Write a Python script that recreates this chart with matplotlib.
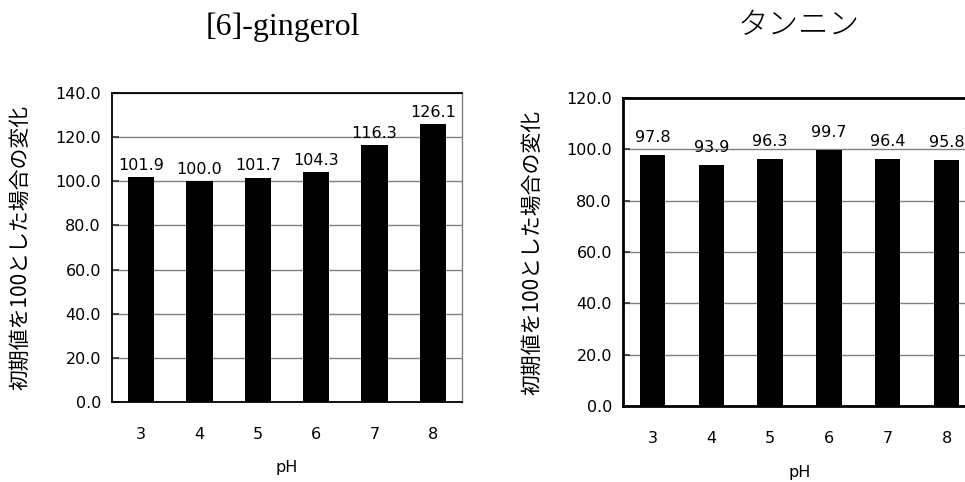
import matplotlib
matplotlib.use("Agg")
import matplotlib.pyplot as plt
import numpy as np

plt.rcParams['font.family'] = ['DejaVu Sans', 'Noto Sans CJK JP']

ph_labels = ["3", "4", "5", "6", "7", "8"]
gingerol_values = [101.9, 100.0, 101.7, 104.3, 116.3, 126.1]
tannin_values = [97.8, 93.9, 96.3, 99.7, 96.4, 95.8]
ylabel_text = "初期値を100とした場合の変化"
xlabel_text = "pH"
title_left = "[6]-gingerol"
title_right = "タンニン"

NUM_FS = 11.5

fig = plt.figure(figsize=(9.65, 4.82), dpi=100)

def draw(ax, values, ymax, bar_w, label_off, thick_frame, ylab_x, xlab_y):
    x = np.arange(len(values))
    ax.bar(x, values, width=bar_w, color='black', zorder=3)
    ax.set_xlim(-0.5, len(values) - 0.5)
    ax.set_ylim(0, ymax)
    ticks = np.arange(0, ymax + 1, 20)
    ax.set_yticks(ticks)
    ax.set_yticklabels([f"{v:.1f}" for v in ticks], fontsize=NUM_FS, family='DejaVu Sans')
    ax.set_xticks(x)
    ax.set_xticklabels(ph_labels, fontsize=NUM_FS, family='DejaVu Sans')
    ax.yaxis.grid(True, color='#808080', linewidth=1, zorder=0)
    ax.set_axisbelow(True)
    ax.tick_params(axis='x', length=0, pad=18)
    ax.tick_params(axis='y', direction='in', length=5, width=1.2, color='#333333', pad=8)
    for v, xi in zip(values, x):
        ax.annotate(f"{v:.1f}", (xi, v), xytext=(0, label_off), textcoords='offset points',
                    ha='center', va='bottom', fontsize=NUM_FS, family='DejaVu Sans', zorder=4)
    ax.set_ylabel(ylabel_text, fontsize=15, family=['Noto Sans CJK JP', 'DejaVu Sans'])
    ax.yaxis.set_label_coords(ylab_x, 0.5)
    ax.set_xlabel(xlabel_text, fontsize=NUM_FS, family='DejaVu Sans')
    ax.xaxis.set_label_coords(0.5, xlab_y)
    lw = 2 if thick_frame else 1.3
    for s in ['left', 'bottom', 'top']:
        ax.spines[s].set_color('black')
        ax.spines[s].set_linewidth(lw)
    ax.spines['right'].set_color('#808080')
    ax.spines['right'].set_linewidth(1)

ax1 = fig.add_axes([112/965, 1 - 402/482, 350/965, 309/482])
draw(ax1, gingerol_values, 140, 0.45, 3, False, -(112 - 31)/350, -(460 - 402)/309)

ax2 = fig.add_axes([623/965, 1 - 406/482, 353/965, 308/482])
draw(ax2, tannin_values, 120, 0.43, 7, True, -(623 - 543)/353, -(465 - 406)/308)

fig.text(283/965, 1 - 27/482, title_left, ha='center', va='center', fontsize=23,
         family='Liberation Serif')
fig.text(799/965, 1 - 25/482, title_right, ha='center', va='center', fontsize=22,
         family='Noto Sans CJK JP', fontweight='light')

fig.savefig("out.png", dpi=100)
